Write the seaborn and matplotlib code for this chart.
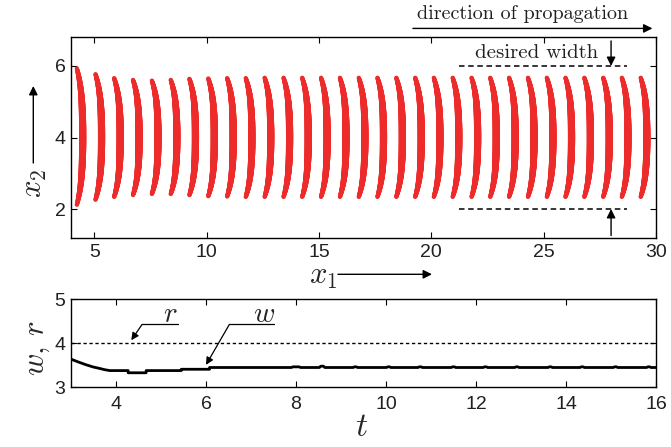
import numpy as np
import pandas as pd
import matplotlib
matplotlib.use("Agg")
import matplotlib.pyplot as plt
import seaborn as sns

# ---- front snapshots (top panel) ----
# x1 of each front at mid-height, its upper and lower tips, and how far the tips lag behind
arc_mid_x = [4.48, 5.32, 6.15, 6.99, 7.83, 8.67, 9.50, 10.34, 11.18, 12.01, 12.85,
             13.69, 14.52, 15.36, 16.20, 17.04, 17.87, 18.71, 19.55, 20.38, 21.22,
             22.06, 22.89, 23.73, 24.57, 25.41, 26.24, 27.08, 27.92, 28.75, 29.59]
arc_top = [5.93, 5.77, 5.66, 5.61, 5.59, 5.61, 5.64, 5.65, 5.66, 5.66, 5.67,
           5.67, 5.67, 5.67, 5.67, 5.67, 5.67, 5.67, 5.67, 5.67, 5.67,
           5.67, 5.67, 5.67, 5.67, 5.67, 5.67, 5.67, 5.67, 5.67, 5.67]
arc_bottom = [2.12, 2.26, 2.34, 2.39, 2.42, 2.42, 2.39, 2.36, 2.35, 2.34, 2.34,
              2.34, 2.34, 2.34, 2.34, 2.34, 2.34, 2.34, 2.34, 2.34, 2.34,
              2.34, 2.34, 2.34, 2.34, 2.34, 2.34, 2.34, 2.34, 2.34, 2.34]
arc_lag = [0.26] + [0.27] * 30

desired_top = 6.0
desired_bottom = 2.0

# ---- width history (bottom panel) ----
t_w = [3.00, 3.15, 3.34, 3.50, 3.63, 3.75, 3.86, 4.27, 4.27, 4.67, 4.67, 5.45, 5.45,
       6.08, 6.08, 7.90, 7.93, 8.07, 8.10, 8.52, 8.55, 8.61, 8.64,
       9.27, 9.30, 9.34, 9.37, 10.01, 10.04, 10.08, 10.11, 10.71, 10.74, 10.78, 10.81,
       11.45, 11.48, 11.52, 11.55, 12.16, 12.19, 12.23, 12.26, 12.86, 12.89, 12.93, 12.96,
       13.60, 13.63, 13.67, 13.70, 14.31, 14.34, 14.38, 14.41, 15.05, 15.08, 15.12, 15.15,
       15.79, 15.82, 15.86, 15.89, 16.00]
w_vals = [3.64, 3.58, 3.51, 3.46, 3.43, 3.40, 3.38, 3.38, 3.33, 3.33, 3.38, 3.38, 3.41,
          3.41, 3.45, 3.45, 3.465, 3.465, 3.45, 3.45, 3.48, 3.48, 3.45,
          3.45, 3.465, 3.465, 3.45, 3.45, 3.465, 3.465, 3.45, 3.45, 3.465, 3.465, 3.45,
          3.45, 3.465, 3.465, 3.45, 3.45, 3.465, 3.465, 3.45, 3.45, 3.465, 3.465, 3.45,
          3.45, 3.465, 3.465, 3.45, 3.45, 3.465, 3.465, 3.45, 3.45, 3.465, 3.465, 3.45,
          3.45, 3.465, 3.465, 3.45, 3.45]
r_level = 4.0

top_xticks = [5, 10, 15, 20, 25, 30]
top_yticks = [2, 4, 6]
bot_xticks = [4, 6, 8, 10, 12, 14, 16]
bot_yticks = [3, 4, 5]

RED = "#EE2B2B"
INK = "#231F20"

sns.set_theme(style="ticks")
plt.rcParams.update({
    "font.family": ["Liberation Sans", "DejaVu Sans"],
    "mathtext.fontset": "cm",
    "xtick.direction": "in",
    "ytick.direction": "in",
    "xtick.top": True,
    "ytick.right": True,
    "axes.edgecolor": "black",
    "axes.linewidth": 1.0,
    "xtick.color": "black",
    "ytick.color": "black",
    "xtick.labelcolor": INK,
    "ytick.labelcolor": INK,
})

W, H = 671, 447
fig = plt.figure(figsize=(W / 100, H / 100), dpi=100)
ax1 = fig.add_axes([71 / W, 1 - 238 / H, 585 / W, 201 / H])
ax2 = fig.add_axes([71 / W, 1 - 387.3 / H, 585 / W, 88 / H])

# each front is a dense run of dots: bowed towards the direction of travel,
# thickest at mid-height and thinning towards the tips
rows = []
s = np.linspace(-1, 1, 240)
for i, (xm, top, bot, lag) in enumerate(zip(arc_mid_x, arc_top, arc_bottom, arc_lag)):
    mid = 0.5 * (top + bot)
    half = 0.5 * (top - bot)
    for sv in s:
        rows.append({"arc": i,
                     "x": xm - lag * (0.4 * sv ** 2 + 0.6 * sv ** 4),
                     "y": mid + half * sv,
                     "thick": 1.0 - sv ** 2})
fronts = pd.DataFrame(rows)

sns.scatterplot(data=fronts, x="x", y="y", size="thick", sizes=(9, 27),
                color=RED, linewidth=0, legend=False, ax=ax1)

ax1.set_xlim(3.96, 30)
ax1.set_ylim(1.19, 6.81)
ax1.set_xticks(top_xticks)
ax1.set_yticks(top_yticks)
ax1.set_xlabel("")
ax1.set_ylabel("")

dash_kw = dict(color="black", lw=1.1, linestyle=(0, (3.6, 2.4)))
ax1.plot([21.22, 28.7], [desired_top, desired_top], **dash_kw)
ax1.plot([21.22, 28.7], [desired_bottom, desired_bottom], **dash_kw)

arrow_kw = dict(arrowstyle="-|>", color="black", lw=1.0, mutation_scale=13,
                shrinkA=0, shrinkB=0)
ax1.annotate("", xy=(28.0, desired_top), xytext=(28.0, 6.70),
             arrowprops=arrow_kw, annotation_clip=False)
ax1.annotate("", xy=(28.0, desired_bottom), xytext=(28.0, 1.26),
             arrowprops=arrow_kw, annotation_clip=False)
ax1.text(24.7, 6.36, "desired width", family="cmr10", fontsize=15,
         ha="center", va="center", color=INK)

ax1.annotate("", xy=(29.84, 7.05), xytext=(19.18, 7.05),
             arrowprops=arrow_kw, annotation_clip=False)
ax1.text(24.05, 7.45, "direction of propagation", family="cmr10", fontsize=14.5,
         ha="center", va="center", color=INK)

# ---- bottom panel ----
sns.lineplot(x=t_w, y=w_vals, sort=False, estimator=None, color="black", lw=2.0, ax=ax2)
ax2.axhline(r_level, color="black", lw=1.0, linestyle=(0, (2.4, 1.9)))
ax2.set_xlim(3, 16)
ax2.set_ylim(3, 5)
ax2.set_xticks(bot_xticks)
ax2.set_yticks(bot_yticks)
ax2.set_xlabel("")
ax2.set_ylabel("")

lead_kw = dict(arrowstyle="-|>", color="black", lw=0.9, mutation_scale=11,
               shrinkA=0, shrinkB=0)
ax2.plot([4.58, 5.37], [4.43, 4.43], color="black", lw=0.9)
ax2.annotate("", xy=(4.34, 4.07), xytext=(4.58, 4.43), arrowprops=lead_kw)
ax2.text(5.2, 4.66, "$r$", fontsize=21, ha="center", va="center")
ax2.plot([6.52, 7.52], [4.43, 4.43], color="black", lw=0.9)
ax2.annotate("", xy=(6.0, 3.51), xytext=(6.52, 4.43), arrowprops=lead_kw)
ax2.text(7.28, 4.66, "$w$", fontsize=21, ha="center", va="center")

for ax in (ax1, ax2):
    ax.tick_params(length=4, width=0.8, labelsize=14)
    for sp in ax.spines.values():
        sp.set_visible(True)
        sp.set_linewidth(1.0)
ax1.tick_params(axis="x", pad=4)
ax2.tick_params(axis="x", pad=6)
ax1.tick_params(axis="y", pad=4)
ax2.tick_params(axis="y", pad=4)

# axis titles with direction arrows
fig.text(34 / W, 1 - 183 / H, "$x_2$", fontsize=22, rotation=90, ha="center", va="center")
fig.add_artist(matplotlib.patches.FancyArrowPatch(
    (33.3 / W, 1 - 163 / H), (33.3 / W, 1 - 86 / H), transform=fig.transFigure,
    arrowstyle="-|>", mutation_scale=13, lw=1.0, color="black", shrinkA=0, shrinkB=0))
fig.text(323 / W, 1 - 276 / H, "$x_1$", fontsize=22, ha="center", va="center")
fig.add_artist(matplotlib.patches.FancyArrowPatch(
    (338 / W, 1 - 274.3 / H), (432 / W, 1 - 274.3 / H), transform=fig.transFigure,
    arrowstyle="-|>", mutation_scale=13, lw=1.0, color="black", shrinkA=0, shrinkB=0))
fig.text(37 / W, 1 - 348 / H, r"$w,\,r$", fontsize=22, rotation=90, ha="center", va="center")
fig.text(362 / W, 1 - 428 / H, "$t$", fontsize=24, ha="center", va="center")

fig.savefig("out.png", dpi=100)
